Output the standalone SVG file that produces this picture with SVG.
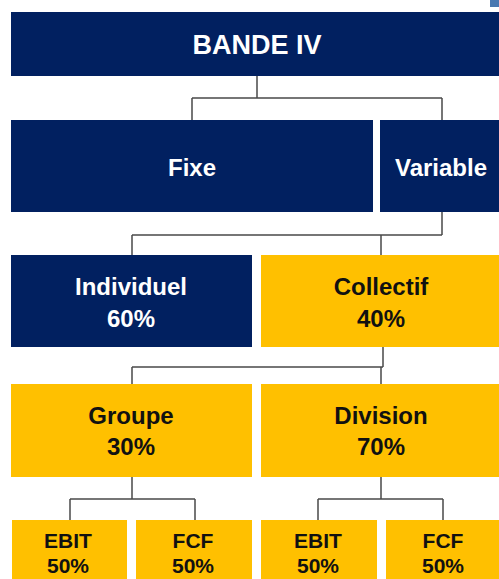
<svg xmlns="http://www.w3.org/2000/svg" width="499" height="579" viewBox="0 0 499 579">
<style>
.navy{fill:#012060}
.gold{fill:#FFC000}
.t{font-family:"Liberation Sans",Arial,sans-serif;font-weight:bold;text-anchor:middle}
.w{fill:#ffffff}
.k{fill:#111111}
.c{fill:none;stroke:#4a4a4a;stroke-width:1.5}
</style>
<rect x="0" y="0" width="499" height="579" fill="#ffffff"/>
<rect x="490" y="0" width="9" height="7" fill="#4a78b0"/>
<g id="connectors">
<path class="c" d="M257,76 V98 M192,98 H442 M192,98 V120 M442,98 V120"/>
<path class="c" d="M442,212 V235 M132,235 H442 M132,235 V255 M381,235 V255"/>
<path class="c" d="M383,347 V367 M132,367 H383 M132,367 V384 M381,367 V384"/>
<path class="c" d="M132,477 V499 M70,499 H195 M70,499 V520 M195,499 V520"/>
<path class="c" d="M381,477 V499 M318,499 H443 M318,499 V520 M443,499 V520"/>
</g>
<g id="bande">
<rect class="navy" x="11" y="12" width="488" height="64"/>
<text class="t w" x="257" y="54" font-size="27">BANDE IV</text>
</g>
<g id="fixe">
<rect class="navy" x="11" y="120" width="362" height="92"/>
<text class="t w" x="192" y="176" font-size="24">Fixe</text>
</g>
<g id="variable">
<rect class="navy" x="380" y="120" width="119" height="92"/>
<text class="t w" x="441" y="176" font-size="24">Variable</text>
</g>
<g id="individuel">
<rect class="navy" x="11" y="255" width="241" height="92"/>
<text class="t w" x="131" y="295" font-size="24">Individuel</text>
<text class="t w" x="131" y="327" font-size="24">60%</text>
</g>
<g id="collectif">
<rect class="gold" x="261" y="255" width="238" height="92"/>
<text class="t k" x="381" y="295" font-size="24">Collectif</text>
<text class="t k" x="381" y="327" font-size="24">40%</text>
</g>
<g id="groupe">
<rect class="gold" x="11" y="384" width="241" height="93"/>
<text class="t k" x="131" y="424" font-size="24">Groupe</text>
<text class="t k" x="131" y="455" font-size="24">30%</text>
</g>
<g id="division">
<rect class="gold" x="261" y="384" width="238" height="93"/>
<text class="t k" x="381" y="424" font-size="24">Division</text>
<text class="t k" x="381" y="455" font-size="24">70%</text>
</g>
<g id="ebit1">
<rect class="gold" x="12" y="520" width="115" height="59"/>
<text class="t k" x="68" y="548" font-size="21">EBIT</text>
<text class="t k" x="68" y="573" font-size="21">50%</text>
</g>
<g id="fcf1">
<rect class="gold" x="136" y="520" width="116" height="59"/>
<text class="t k" x="193" y="548" font-size="21">FCF</text>
<text class="t k" x="193" y="573" font-size="21">50%</text>
</g>
<g id="ebit2">
<rect class="gold" x="261" y="520" width="116" height="59"/>
<text class="t k" x="318" y="548" font-size="21">EBIT</text>
<text class="t k" x="318" y="573" font-size="21">50%</text>
</g>
<g id="fcf2">
<rect class="gold" x="386" y="520" width="113" height="59"/>
<text class="t k" x="443" y="548" font-size="21">FCF</text>
<text class="t k" x="443" y="573" font-size="21">50%</text>
</g>
</svg>
